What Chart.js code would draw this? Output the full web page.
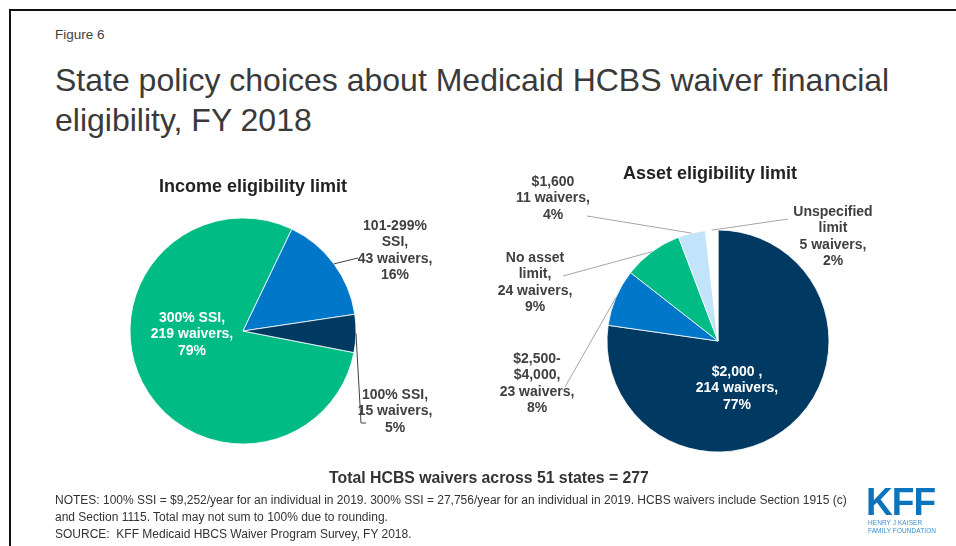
<!DOCTYPE html>
<html>
<head>
<meta charset="utf-8">
<script src="https://cdn.jsdelivr.net/npm/chart.js@4/dist/chart.umd.min.js"></script>
<style>
  html, body { margin: 0; padding: 0; background: #fff; }
  body { width: 956px; height: 546px; position: relative; overflow: hidden;
         font-family: "Liberation Sans", Arial, sans-serif; color: #3a3a3a; }
  .frame { position: absolute; left: 9px; top: 9px; width: 1000px; height: 600px;
           border-top: 2px solid #111; border-left: 2px solid #111; }
  .abs { position: absolute; white-space: nowrap; }
  canvas { position: absolute; left: 0; top: 0; }
  #fig { left: 55px; top: 27px; font-size: 13.5px; line-height: 16px; color: #404040; }
  #title { left: 55px; top: 60px; font-size: 32px; line-height: 40px; color: #3a3a3a; }
  #total { left: 0; width: 978px; text-align: center; top: 469px; font-size: 15.8px;
           line-height: 18px; font-weight: bold; color: #333; }
  .note { left: 55px; font-size: 12px; line-height: 14px; color: #333; }
  #logo { left: 866px; top: 482px; font-weight: bold; color: #0c74bd; font-size: 39px;
          line-height: 40px; letter-spacing: -1px; transform: scaleX(0.95); transform-origin: left top; }
  .logosub { left: 868px; font-size: 7.2px; line-height: 8px; color: #3c8fd0;
             transform: scaleX(0.9); transform-origin: left top; letter-spacing: 0.1px; }
</style>
</head>
<body>
<div class="frame"></div>
<div class="abs" id="fig">Figure 6</div>
<div class="abs" id="title">State policy choices about Medicaid HCBS waiver financial<br>eligibility, FY 2018</div>

<canvas id="incomeChart" width="956" height="546"></canvas>
<canvas id="assetChart" width="956" height="546"></canvas>

<div class="abs" id="total">Total HCBS waivers across 51 states = 277</div>
<div class="abs note" style="top:493px">NOTES: 100% SSI = $9,252/year for an individual in 2019. 300% SSI = 27,756/year for an individual in 2019. HCBS waivers include Section 1915 (c)</div>
<div class="abs note" style="top:510px">and Section 1115. Total may not sum to 100% due to rounding.</div>
<div class="abs note" style="top:527px">SOURCE:&nbsp; KFF Medicaid HBCS Waiver Program Survey, FY 2018.</div>
<div class="abs" id="logo">KFF</div>
<div class="abs logosub" style="top:519px">HENRY J KAISER</div>
<div class="abs logosub" style="top:527px">FAMILY FOUNDATION</div>

<script>
// Income eligibility limit
const incomeCategories = ['300% SSI', '101-299% SSI', '100% SSI'];
const incomeWaivers = [219, 43, 15];
const incomeShares = [79, 16, 5];
const incomeNameLines = [['300% SSI,'], ['101-299%', 'SSI,'], ['100% SSI,']];

// Asset eligibility limit
const assetCategories = ['$2,000', '$2,500-$4,000', 'No asset limit', '$1,600', 'Unspecified limit'];
const assetWaivers = [214, 23, 24, 11, 5];
const assetShares = [77, 8, 9, 4, 2];
const assetNameLines = [['$2,000 ,'], ['$2,500-', '$4,000,'], ['No asset', 'limit,'], ['$1,600'], ['Unspecified', 'limit']];

const NAVY = '#003a63', BLUE = '#0077c8', GREEN = '#00bc84', LIGHT = '#c2e4fa';
const FONT = 'bold 14px "Liberation Sans", Arial, sans-serif';
const LINE_H = 16.5;

function labelLines(names, waivers, shares, i) {
  return names[i].concat([waivers[i] + ' waivers,', shares[i] + '%']);
}

// Draws the slice labels, chart heading and leader lines for one pie
const sliceLabels = {
  id: 'sliceLabels',
  afterDatasetsDraw(chart, args, opts) {
    const ctx = chart.ctx;
    const arcs = chart.getDatasetMeta(0).data;
    ctx.save();
    ctx.font = 'bold 18px "Liberation Sans", Arial, sans-serif';
    ctx.fillStyle = '#222';
    ctx.textAlign = 'center';
    ctx.textBaseline = 'middle';
    ctx.fillText(opts.heading.text, opts.heading.x, opts.heading.y);

    opts.items.forEach(item => {
      const arc = arcs[item.index];
      if (item.leader) {
        const mid = (arc.startAngle + arc.endAngle) / 2;
        ctx.beginPath();
        ctx.strokeStyle = opts.leaderColor;
        ctx.lineWidth = 1;
        ctx.moveTo(arc.x + Math.cos(mid) * arc.outerRadius, arc.y + Math.sin(mid) * arc.outerRadius);
        item.leader.forEach(p => ctx.lineTo(p[0], p[1]));
        ctx.stroke();
      }
      ctx.font = FONT;
      ctx.fillStyle = item.color || '#404040';
      ctx.textAlign = 'center';
      ctx.textBaseline = 'middle';
      item.lines.forEach((t, k) => ctx.fillText(t, item.x, item.y + k * LINE_H));
    });
    ctx.restore();
  }
};

Chart.defaults.font.family = '"Liberation Sans", Arial, sans-serif';

new Chart(document.getElementById('incomeChart'), {
  type: 'pie',
  data: {
    labels: incomeCategories,
    datasets: [{
      data: incomeWaivers,
      backgroundColor: [GREEN, BLUE, NAVY],
      borderColor: '#ffffff',
      borderWidth: 0.8,
      hoverOffset: 0
    }]
  },
  options: {
    responsive: false,
    animation: false,
    events: [],
    rotation: 101,
    radius: 113,
    layout: { padding: { left: 130, top: 218, right: 600, bottom: 102 } },
    plugins: {
      legend: { display: false },
      tooltip: { enabled: false },
      sliceLabels: {
        heading: { text: 'Income eligibility limit', x: 253, y: 187 },
        leaderColor: '#404040',
        items: [
          { index: 0, color: '#ffffff', x: 192, y: 318, lines: labelLines(incomeNameLines, incomeWaivers, incomeShares, 0) },
          { index: 1, x: 395, y: 226, leader: [[358, 258]], lines: labelLines(incomeNameLines, incomeWaivers, incomeShares, 1) },
          { index: 2, x: 395, y: 395, leader: [[361, 423], [366, 423]], lines: labelLines(incomeNameLines, incomeWaivers, incomeShares, 2) }
        ]
      }
    }
  },
  plugins: [sliceLabels]
});

new Chart(document.getElementById('assetChart'), {
  type: 'pie',
  data: {
    labels: assetCategories,
    datasets: [{
      data: assetWaivers,
      backgroundColor: [NAVY, BLUE, GREEN, LIGHT, '#ffffff'],
      borderColor: '#ffffff',
      borderWidth: 0.8,
      hoverOffset: 0
    }]
  },
  options: {
    responsive: false,
    animation: false,
    events: [],
    rotation: 0,
    radius: 111,
    layout: { padding: { left: 607, top: 230, right: 127, bottom: 94 } },
    plugins: {
      legend: { display: false },
      tooltip: { enabled: false },
      sliceLabels: {
        heading: { text: 'Asset eligibility limit', x: 710, y: 174 },
        leaderColor: '#a6a6a6',
        items: [
          { index: 0, color: '#ffffff', x: 737, y: 372, lines: labelLines(assetNameLines, assetWaivers, assetShares, 0) },
          { index: 1, x: 537, y: 359, leader: [[565, 387]], lines: labelLines(assetNameLines, assetWaivers, assetShares, 1) },
          { index: 2, x: 535, y: 258, leader: [[563, 276]], lines: labelLines(assetNameLines, assetWaivers, assetShares, 2) },
          { index: 3, x: 553, y: 182, leader: [[587, 216]], lines: labelLines(assetNameLines, assetWaivers, assetShares, 3) },
          { index: 4, x: 833, y: 212, leader: [[788, 219]], lines: labelLines(assetNameLines, assetWaivers, assetShares, 4) }
        ]
      }
    }
  },
  plugins: [sliceLabels]
});
</script>
</body>
</html>
